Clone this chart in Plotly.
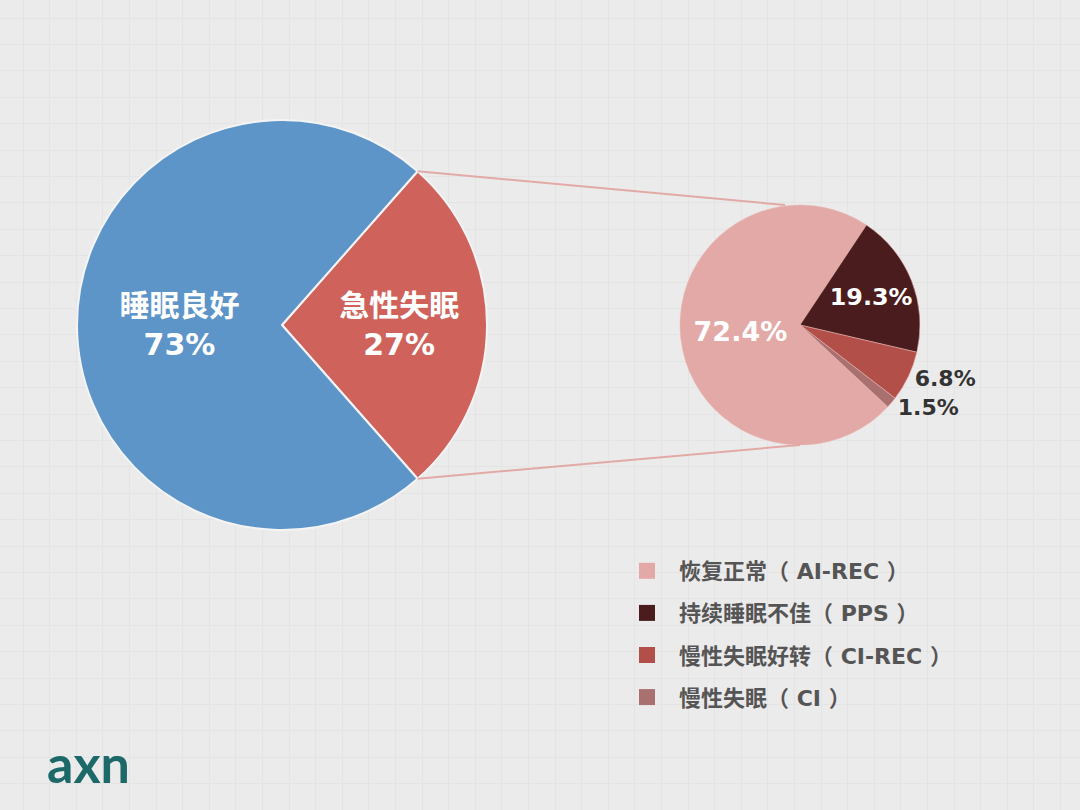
import math
import plotly.graph_objects as go

# ---------------- data ----------------
main_labels = ["急性失眠", "睡眠良好"]
main_values = [27, 73]
main_text = ["急性失眠<br>27%", "睡眠良好<br>73%"]
main_colors = ["#cf635b", "#5d95c8"]

sub_labels = ["恢复正常（ AI-REC ）", "持续睡眠不佳（ PPS ）", "慢性失眠好转（ CI-REC ）", "慢性失眠（ CI ）"]
sub_values = [72.4, 19.3, 6.8, 1.5]
sub_text = ["72.4%", "19.3%", "6.8%", "1.5%"]
sub_colors = ["#e3a9a6", "#4a1c1e", "#b34f49", "#a9706f"]
sub_textpos = ["inside", "inside", "outside", "outside"]
sub_textcolors = ["#ffffff", "#ffffff", "#333333", "#333333"]

W, H = 1080, 810
BG = "#ecebeb"
GRID = "#e5e4e4"
FONT = "DejaVu Sans, Noto Sans CJK SC"

# pie placement (paper domains)
big_dom_x = [77 / W, 487 / W]
big_dom_y = [1 - 530 / H, 1 - 120 / H]
small_dom_x = [680 / W, 920 / W]
small_dom_y = [1 - 445 / H, 1 - 205 / H]

# rotation so the 27% wedge is centred on the right
big_rot = 90 - main_values[0] / sum(main_values) * 360 / 2
# small pie: first slice (pink) starts here, clockwise
small_rot = 133

fig = go.Figure()

# dummy scatter for the graph-paper grid
fig.add_trace(go.Scatter(x=[None], y=[None], mode="markers", showlegend=False,
                         hoverinfo="skip"))

fig.add_trace(go.Pie(
    labels=main_labels, values=main_values, text=main_text,
    textinfo="text", textposition="inside", insidetextorientation="horizontal",
    sort=False, direction="clockwise", rotation=big_rot,
    marker=dict(colors=main_colors, line=dict(color="#f4f4f4", width=2)),
    textfont=dict(family=FONT, size=30, color="#ffffff", weight="bold"),
    domain=dict(x=big_dom_x, y=big_dom_y), showlegend=False, hoverinfo="label+percent",
))

fig.add_trace(go.Pie(
    labels=sub_labels, values=sub_values, text=sub_text,
    textinfo="text", textposition=sub_textpos, insidetextorientation="horizontal",
    sort=False, direction="clockwise", rotation=small_rot,
    marker=dict(colors=sub_colors, line=dict(color="#e8b8b4", width=0.5)),
    textfont=dict(family=FONT, size=27, color=sub_textcolors, weight="bold"),
    outsidetextfont=dict(family=FONT, size=22, color="#333333", weight="bold"),
    domain=dict(x=small_dom_x, y=small_dom_y), showlegend=False, hoverinfo="label+percent",
))

# legend entries (one per sub category)
for lab, col in zip(sub_labels, sub_colors):
    fig.add_trace(go.Scatter(
        x=[None], y=[None], mode="markers", name=lab, legendgroup=lab,
        marker=dict(symbol="square", size=16, color=col),
        showlegend=True,
    ))

# connector lines from the red wedge edges to the small pie
def to_px(dom_x, dom_y):
    cx = (dom_x[0] + dom_x[1]) / 2 * W
    cy = (1 - (dom_y[0] + dom_y[1]) / 2) * H
    r = min((dom_x[1] - dom_x[0]) * W, (dom_y[1] - dom_y[0]) * H) / 2
    return cx, cy, r

bcx, bcy, br = to_px(big_dom_x, big_dom_y)
scx, scy, sr = to_px(small_dom_x, small_dom_y)
half = main_values[0] / sum(main_values) * math.pi
p_top = (bcx + br * math.cos(half), bcy - br * math.sin(half))
p_bot = (bcx + br * math.cos(half), bcy + br * math.sin(half))
q_top = (scx - 15, scy - sr)
q_bot = (scx, scy + sr)
for p, q in [(p_top, q_top), (p_bot, q_bot)]:
    fig.add_shape(type="line", xref="paper", yref="paper",
                  x0=p[0] / W, y0=1 - p[1] / H, x1=q[0] / W, y1=1 - q[1] / H,
                  line=dict(color="#e2aaa6", width=2), layer="above")

fig.add_annotation(text="<b>axn</b>", x=45 / W, y=1 - 763 / H, xref="paper", yref="paper",
                   xanchor="left", yanchor="middle", showarrow=False,
                   font=dict(family="Lato", size=52, color="#1d6868"))

fig.update_layout(
    width=W, height=H,
    margin=dict(l=0, r=0, t=0, b=0),
    paper_bgcolor=BG, plot_bgcolor=BG,
    xaxis=dict(range=[0, W], showgrid=True, gridcolor=GRID, gridwidth=1.2,
               tick0=23, dtick=26.6, showticklabels=False, zeroline=False,
               fixedrange=True, showline=False),
    yaxis=dict(range=[H, 0], showgrid=True, gridcolor=GRID, gridwidth=1.2,
               tick0=18, dtick=26.4, showticklabels=False, zeroline=False,
               fixedrange=True, showline=False),
    showlegend=True,
    legend=dict(x=615 / W, y=1 - 550 / H, xanchor="left", yanchor="top",
                bgcolor="rgba(0,0,0,0)", tracegroupgap=10.5, itemwidth=54,
                font=dict(family=FONT, size=22, color="#555555", weight="bold")),
)

fig.write_html("out.html", config={"displayModeBar": False},
               post_script="document.body.style.margin='0';document.body.style.overflow='hidden';")
